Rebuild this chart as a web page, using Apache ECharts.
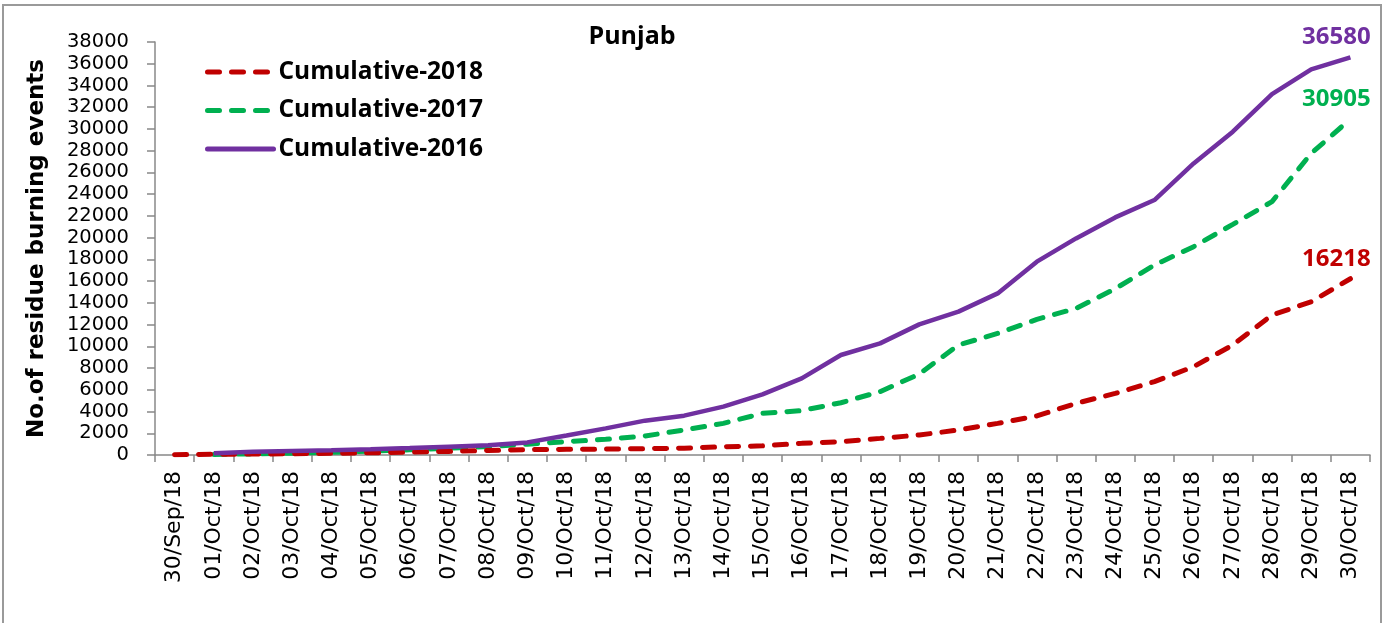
<!DOCTYPE html>
<html>
<head>
<meta charset="utf-8">
<script src="https://cdn.jsdelivr.net/npm/echarts@6/dist/echarts.min.js"></script>
<style>
html,body{margin:0;padding:0;background:#fff;}
#c{width:1389px;height:623px;}
</style>
</head>
<body>
<div id="c"></div>
<script>
const categories = ['30/Sep/18','01/Oct/18','02/Oct/18','03/Oct/18','04/Oct/18','05/Oct/18','06/Oct/18','07/Oct/18','08/Oct/18','09/Oct/18','10/Oct/18','11/Oct/18','12/Oct/18','13/Oct/18','14/Oct/18','15/Oct/18','16/Oct/18','17/Oct/18','18/Oct/18','19/Oct/18','20/Oct/18','21/Oct/18','22/Oct/18','23/Oct/18','24/Oct/18','25/Oct/18','26/Oct/18','27/Oct/18','28/Oct/18','29/Oct/18','30/Oct/18'];
const cum2018 = [30,60,90,120,160,200,260,330,420,490,520,540,580,630,760,840,1070,1230,1530,1840,2300,2910,3590,4750,5670,6750,8130,10120,12880,14100,16218];
const cum2017 = [null,50,100,160,250,350,480,620,780,1000,1230,1440,1750,2300,2910,3830,4080,4810,5830,7450,10120,11190,12480,13490,15300,17480,19170,21220,23310,27750,30905];
const cum2016 = [null,150,300,370,430,520,640,770,890,1160,1800,2450,3160,3620,4450,5580,7050,9200,10270,12020,13190,14870,17790,19930,21860,23460,26830,29750,33210,35480,36580];
const yTicks = {min:0, max:38000, interval:2000};
const seriesNames = ['Cumulative-2018','Cumulative-2017','Cumulative-2016'];
const colors = ['#C00000','#00B050','#7030A0'];

function endLabel(color){
  return {show:true, formatter:'{c}', align:'center', verticalAlign:'bottom', distance:0, offset:[-14,-8],
    color:color, fontFamily:'Open Sans', fontWeight:'bold', fontSize:24};
}

const chart = echarts.init(document.getElementById('c'), null, {renderer:'canvas'});
chart.setOption({
  animation:false,
  backgroundColor:'#fff',
  graphic:[{type:'rect', shape:{x:3, y:5, width:1378, height:640}, style:{fill:'none', stroke:'#9a9a9a', lineWidth:2}, silent:true}],
  title:{text:'Punjab', left:627, top:19, textAlign:'center', textStyle:{fontFamily:'Open Sans', fontWeight:'bold', fontSize:25, color:'#000'}},
  legend:{
    orient:'vertical', left:200, top:54, itemWidth:66, itemHeight:14, itemGap:12.5,
    data:seriesNames,
    itemStyle:{opacity:0},
    lineStyle:{width:5, cap:'round'},
    textStyle:{fontFamily:'Open Sans', fontWeight:'bold', fontSize:24.5, lineHeight:26, color:'#000'}
  },
  grid:{left:155, right:19, top:42, bottom:168, containLabel:false},
  xAxis:{
    type:'category', data:categories, boundaryGap:true,
    axisLine:{lineStyle:{color:'#888', width:1.5}},
    axisTick:{show:true, length:7, lineStyle:{color:'#888', width:1.5}},
    axisLabel:{rotate:90, interval:0, margin:16, fontFamily:'DejaVu Sans', fontSize:22, color:'#000'}
  },
  yAxis:{
    type:'value', min:yTicks.min, max:yTicks.max, interval:yTicks.interval,
    name:'No.of residue burning events', nameLocation:'middle', nameRotate:90, nameGap:106,
    nameTextStyle:{fontFamily:'DejaVu Sans', fontWeight:'bold', fontSize:23, color:'#000'},
    axisLine:{show:true, lineStyle:{color:'#888', width:1.5}},
    axisTick:{show:true, length:8, lineStyle:{color:'#888', width:1.5}},
    splitLine:{show:false},
    axisLabel:{margin:26, fontFamily:'DejaVu Sans', fontSize:19.5, lineHeight:18, color:'#000', showMinLabel:true, showMaxLabel:true, hideOverlap:false,
      formatter:function(v){return String(v);}}
  },
  series:[
    {name:seriesNames[0], type:'line', data:cum2018, symbol:'none', color:colors[0], z:3,
     lineStyle:{color:colors[0], width:5, type:[12,12], cap:'round'}, endLabel:endLabel(colors[0])},
    {name:seriesNames[1], type:'line', data:cum2017, symbol:'none', color:colors[1], z:2,
     lineStyle:{color:colors[1], width:5, type:[12,12], cap:'round'}, endLabel:endLabel(colors[1])},
    {name:seriesNames[2], type:'line', data:cum2016, symbol:'none', color:colors[2], z:4,
     lineStyle:{color:colors[2], width:4.5, type:'solid'}, endLabel:endLabel(colors[2])}
  ]
});
</script>
</body>
</html>
